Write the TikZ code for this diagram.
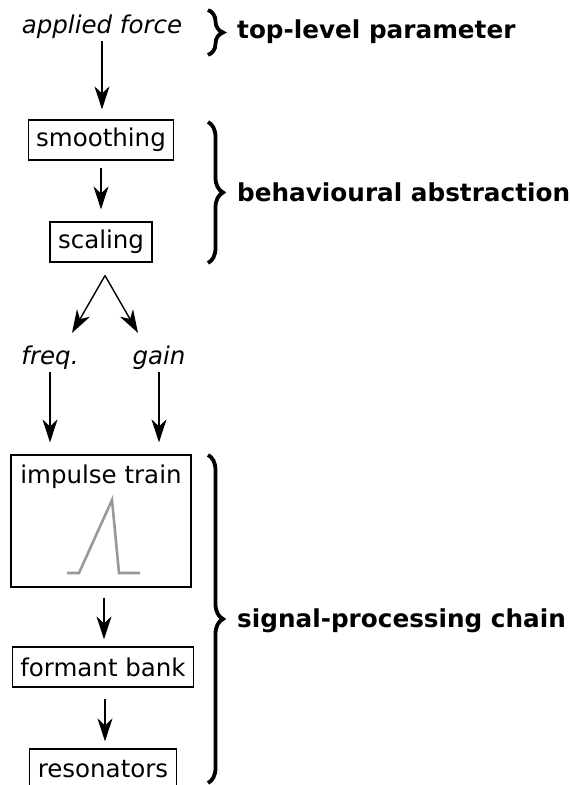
\documentclass[tikz,border=0pt]{standalone}
\usepackage{fontspec}
\setmainfont{DejaVu Sans}
\usetikzlibrary{arrows.meta,calc,decorations.pathreplacing}
\definecolor{ink}{HTML}{000000}
\definecolor{pulse}{HTML}{999999}

\begin{document}
\begin{tikzpicture}[
    x=1pt, y=1pt,
    font=\fontsize{24.5}{29}\selectfont,
    stage/.style={
        draw=ink,
        line width=1.2pt,
        minimum height=40pt,
        inner xsep=8pt,
        inner ysep=0pt,
        text=ink
    },
    param/.style={font=\fontsize{24.5}{29}\selectfont\itshape, inner sep=2pt, text=ink},
    tag/.style={font=\fontsize{24.7}{29}\selectfont\bfseries, anchor=west, inner sep=0pt, text=ink},
    arrow/.style={-{Stealth[length=23pt,width=15pt,inset=7pt]}, draw=ink, line width=1.4pt},
    bracket/.style={decorate, decoration={brace, amplitude=15pt}, draw=ink, line width=3.8pt},
    trace/.style={draw=pulse, line width=2.6pt}
]
\useasboundingbox (0,0) rectangle (570,785);

% Control side: force to parameters.
\node[param] (force) at (102,758) {applied force};
\node[stage] (smooth) at (101,645) {smoothing};
\node[stage] (scale) at (101,543) {scaling};
\coordinate (split) at ([xshift=4pt,yshift=-13pt]scale.south);
\node[param] (freq) at (50,427) {freq.};
\node[param] (gain) at (159,427) {gain};

\draw[arrow, shorten >=10pt] (force) -- (force |- smooth.north);
\draw[arrow, shorten <=7pt, shorten >=12pt] (smooth) -- (scale);
\draw[arrow] (split) -- ([xshift=22pt,yshift=11pt]freq.north);
\draw[arrow] (split) -- ([xshift=-21pt,yshift=11pt]gain.north);

% Signal chain.
\node[stage, minimum width=180pt, minimum height=132pt] (impulse) at (101,264) {};
\node[inner sep=0pt] (impulseText) at ([yshift=-22pt]impulse.north) {impulse train};
\draw[trace] (impulse.center) ++(-34,-52) -- ++(12,0) -- ++(33,73) -- ++(7,-73) -- ++(21,0);
\node[stage] (formant) at (103,118) {formant bank};
\node[stage] (reson) at (103,16) {resonators};

\draw[arrow, shorten >=12pt] (freq) -- (freq |- impulse.north);
\draw[arrow, shorten >=12pt] (gain) -- (gain |- impulse.north);
\draw[arrow, shorten <=10pt, shorten >=7pt] ([xshift=3pt]impulse.south) -- ([xshift=3pt]impulse.south |- formant.north);
\draw[arrow, shorten <=11pt, shorten >=7pt] ([xshift=2pt]formant.south) -- ([xshift=2pt]formant.south |- reson.north);

% Braces and their tags.
\draw[bracket] (208,775) -- (208,730);
\draw[bracket] (208,663) -- (208,522);
\draw[bracket] (208,330) -- (208,2);
\node[tag] (topTag) at (237,753) {top-level parameter};
\node[tag] (behavTag) at (237,593) {behavioural abstraction};
\node[tag] (chainTag) at (237,164) {signal-processing chain};

\end{tikzpicture}
\end{document}
